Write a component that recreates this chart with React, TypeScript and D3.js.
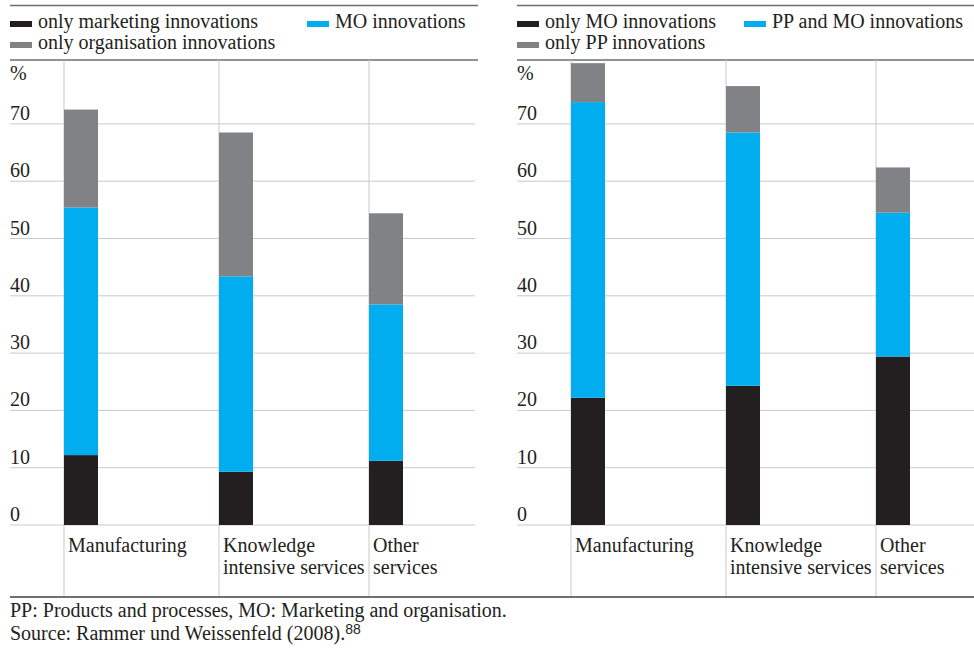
import React from "react";
import * as d3 from "d3";

const categories = ["Manufacturing", "Knowledge intensive services", "Other services"];
const categoryLines = [["Manufacturing"], ["Knowledge", "intensive services"], ["Other", "services"]];

// Left panel
const leftSeriesNames = ["only marketing innovations", "MO innovations", "only organisation innovations"];
const onlyMarketing = [12.2, 9.3, 11.2];
const moInnovations = [43.2, 34.1, 27.3];
const onlyOrganisation = [17.1, 25.1, 15.9];

// Right panel
const rightSeriesNames = ["only MO innovations", "PP and MO innovations", "only PP innovations"];
const onlyMO = [22.2, 24.3, 29.4];
const ppAndMO = [51.6, 44.2, 25.1];
const onlyPP = [6.8, 8.1, 7.9];

const yTicks = [0, 10, 20, 30, 40, 50, 60, 70];
const footnote1 = "PP: Products and processes, MO: Marketing and organisation.";
const footnote2 = "Source: Rammer und Weissenfeld (2008).";
const footnoteSup = "88";

const colors = ["#231f20", "#00aeef", "#808285"];
const FONT = "'Liberation Serif', 'Times New Roman', serif";

const W = 974;
const H = 649;
const yScale = d3.scaleLinear().domain([0, 80]).range([525, 66.6]);

type PanelProps = {
  x0: number;
  ruleEnd: number;
  gridEnd: number;
  names: string[];
  series: number[][];
  legendX2: number;
};

function Panel({ x0, ruleEnd, gridEnd, names, series, legendX2 }: PanelProps) {
  const rows = categories.map((c, i) => {
    const o: Record<string, number | string> = { cat: c };
    names.forEach((n, k) => (o[n] = series[k][i]));
    return o;
  });
  const stack = d3.stack<any>().keys(names);
  const stacked = stack(rows);
  const xScale = d3.scaleOrdinal<string, number>().domain(categories).range([x0 + 54, x0 + 209, x0 + 359]);
  const barW = 34;
  const legendPos = [
    [x0, 0],
    [legendX2, 0],
    [x0, 1],
  ];
  return (
    <g>
      <line x1={x0} x2={ruleEnd} y1={5.5} y2={5.5} stroke="#6d6e71" strokeWidth={1.6} />
      <line x1={x0} x2={ruleEnd} y1={60} y2={60} stroke="#6d6e71" strokeWidth={1.6} />
      {names.map((n, k) => {
        const [lx, row] = legendPos[k];
        return (
          <g key={n}>
            <rect x={lx} y={21 + row * 21} width={22} height={6} fill={colors[k]} />
            <text x={lx + 28} y={28 + row * 21} fontSize={20} fontFamily={FONT} fill="#231f20">
              {n}
            </text>
          </g>
        );
      })}
      {yTicks.map((t) => (
        <g key={t}>
          <line x1={x0} x2={gridEnd} y1={yScale(t)} y2={yScale(t)} stroke="#c8c9cb" strokeWidth={1} />
          <text x={x0} y={yScale(t) - 4} fontSize={20} fontFamily={FONT} fill="#231f20">
            {t}
          </text>
        </g>
      ))}
      <text x={x0} y={80} fontSize={20} fontFamily={FONT} fill="#231f20">
        %
      </text>
      {categories.map((c) => (
        <line key={c} x1={xScale(c)} x2={xScale(c)} y1={60} y2={597} stroke="#c8c9cb" strokeWidth={1} />
      ))}
      {stacked.map((s, k) => (
        <g key={s.key} fill={colors[k]}>
          {s.map((d, i) => (
            <rect
              key={i}
              x={xScale(categories[i])}
              y={yScale(d[1])}
              width={barW}
              height={yScale(d[0]) - yScale(d[1])}
            />
          ))}
        </g>
      ))}
      {categories.map((c, i) => (
        <text key={c} x={xScale(c) + 4} y={552} fontSize={20} fontFamily={FONT} fill="#231f20">
          {categoryLines[i].map((l, j) => (
            <tspan key={j} x={xScale(c) + 4} dy={j === 0 ? 0 : 22}>
              {l}
            </tspan>
          ))}
        </text>
      ))}
    </g>
  );
}

export default function App() {
  return (
    <svg
      width={W}
      height={H}
      style={{ position: "absolute", left: 0, top: 0, background: "#fff" }}
    >
      <rect x={0} y={0} width={W} height={H} fill="#fff" />
      <Panel
        x0={10}
        ruleEnd={478}
        gridEnd={475}
        names={leftSeriesNames}
        series={[onlyMarketing, moInnovations, onlyOrganisation]}
        legendX2={307}
      />
      <Panel
        x0={517}
        ruleEnd={974}
        gridEnd={974}
        names={rightSeriesNames}
        series={[onlyMO, ppAndMO, onlyPP]}
        legendX2={744}
      />
      <line x1={10} x2={974} y1={597} y2={597} stroke="#414042" strokeWidth={1.6} />
      <text x={10} y={617} fontSize={20} fontFamily={FONT} fill="#231f20">
        {footnote1}
      </text>
      <text x={10} y={640} fontSize={20} fontFamily={FONT} fill="#231f20">
        {footnote2}
        <tspan fontSize={14} dy={-6} fontFamily="'Liberation Sans', sans-serif">
          {footnoteSup}
        </tspan>
      </text>
    </svg>
  );
}
